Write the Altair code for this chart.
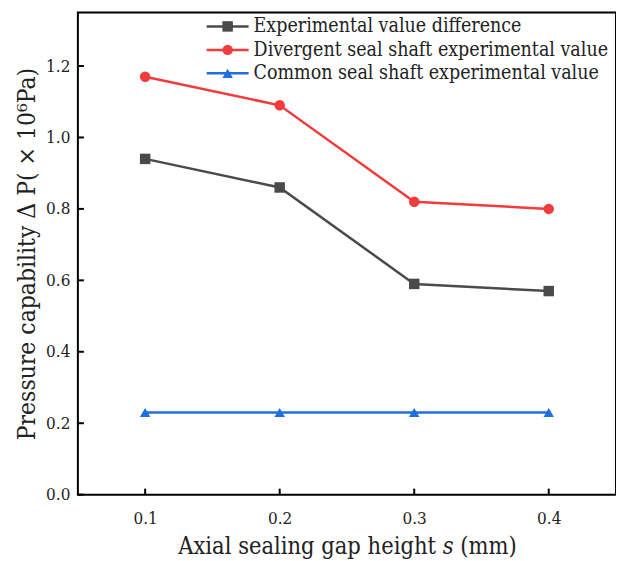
import altair as alt
import pandas as pd

# ---- data ----
gap = [0.1, 0.2, 0.3, 0.4]
series_names = [
    "Experimental value difference",
    "Divergent seal shaft experimental value",
    "Common seal shaft experimental value",
]
diff_vals = [0.94, 0.86, 0.59, 0.57]
div_vals = [1.17, 1.09, 0.82, 0.80]
common_vals = [0.23, 0.23, 0.23, 0.23]
colors = ["#4a4a4a", "#f23b3b", "#1f6fe0"]
shapes = ["square", "circle", "triangle-up"]
y_ticks = [0.0, 0.2, 0.4, 0.6, 0.8, 1.0, 1.2]
x_ticks = [0.1, 0.2, 0.3, 0.4]

FONT = "DejaVu Serif Condensed, DejaVu Serif, serif"

rows = []
for name, vals in zip(series_names, [diff_vals, div_vals, common_vals]):
    for g, v in zip(gap, vals):
        rows.append({"gap": g, "value": v, "series": name})
df = pd.DataFrame(rows)

legend_df = pd.DataFrame({"series": series_names, "row": [0, 1, 2]})
ytick_df = pd.DataFrame({"v": y_ticks})
xtick_df = pd.DataFrame({"v": x_ticks})

W, H = 539, 483

color_scale = alt.Scale(domain=series_names, range=colors)
shape_scale = alt.Scale(domain=series_names, range=shapes)
x_scale = alt.Scale(domain=[0.05, 0.45], nice=False, zero=False)
y_scale = alt.Scale(domain=[0, 1.35], nice=False)

x_axis = alt.Axis(
    values=x_ticks, format=".1f", ticks=False, domain=False, grid=False,
    title="Axial sealing gap height \U0001D460 (mm)", labelPadding=16, titlePadding=8,
    titleFontSize=23.5,
)
y_axis = alt.Axis(
    values=y_ticks, format=".1f", ticks=False, domain=False, grid=False,
    title="Pressure capability  Δ P( × 10⁶Pa)", labelPadding=8, titlePadding=6,
    titleFontSize=24.5,
)

lines = alt.Chart(df).mark_line(strokeWidth=2.5).encode(
    x=alt.X("gap:Q", scale=x_scale, axis=x_axis),
    y=alt.Y("value:Q", scale=y_scale, axis=y_axis),
    color=alt.Color("series:N", scale=color_scale, legend=None),
    detail="series:N",
)
points = alt.Chart(df).mark_point(filled=True, opacity=1, size=110).encode(
    x=alt.X("gap:Q", scale=x_scale, axis=x_axis),
    y=alt.Y("value:Q", scale=y_scale, axis=y_axis),
    color=alt.Color("series:N", scale=color_scale, legend=None),
    shape=alt.Shape("series:N", scale=shape_scale, legend=None),
)
yticks = alt.Chart(ytick_df).mark_rule(color="black", strokeWidth=2).encode(
    y=alt.Y("v:Q", scale=y_scale, axis=y_axis),
    x=alt.value(0), x2=alt.value(6),
)
xticks = alt.Chart(xtick_df).mark_rule(color="black", strokeWidth=2).encode(
    x=alt.X("v:Q", scale=x_scale, axis=x_axis),
    y=alt.value(H), y2=alt.value(H - 6),
)
data_layer = alt.layer(lines, points, yticks, xticks)

leg_y = alt.Y("row:Q", scale=alt.Scale(domain=[0, 2], range=[14, 61]), axis=None)
leg_line = alt.Chart(legend_df).mark_rule(strokeWidth=2.5).encode(
    y=leg_y, x=alt.value(129), x2=alt.value(171),
    color=alt.Color("series:N", scale=color_scale, legend=None),
)
leg_pt = alt.Chart(legend_df).mark_point(filled=True, opacity=1, size=110).encode(
    y=leg_y, x=alt.value(150),
    color=alt.Color("series:N", scale=color_scale, legend=None),
    shape=alt.Shape("series:N", scale=shape_scale, legend=None),
)
leg_txt = alt.Chart(legend_df).mark_text(
    align="left", baseline="middle", font=FONT, fontSize=19.5, color="#222222"
).encode(y=leg_y, x=alt.value(176), text="series:N")
legend_layer = alt.layer(leg_line, leg_pt, leg_txt)

chart = (
    alt.layer(data_layer, legend_layer)
    .resolve_scale(y="independent")
    .properties(
        width=W, height=H,
        autosize=alt.AutoSizeParams(type="none"),
        padding={"left": 70, "top": 4, "right": 0, "bottom": 66},
        background="white",
    )
    .configure_view(stroke="black", strokeWidth=2)
    .configure_axis(
        labelFont=FONT, titleFont=FONT, labelFontSize=17,
        labelColor="#222222", titleColor="#222222", titleFontWeight="normal",
    )
)

chart.save("out.html", embed_options={"renderer": "svg", "actions": False})
